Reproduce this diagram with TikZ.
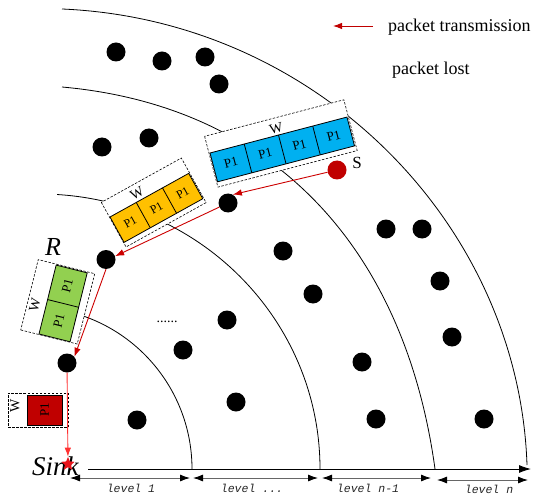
\documentclass[tikz,border=0pt]{standalone}
\usepackage{fontspec}
\setmainfont{Liberation Serif}
\newfontfamily\levelfont{Liberation Mono}
\usetikzlibrary{arrows.meta,shapes.geometric}

\definecolor{cellblue}{HTML}{00B0F0}
\definecolor{cellyellow}{HTML}{FFC000}
\definecolor{cellgreen}{HTML}{92D050}
\definecolor{cellred}{HTML}{C00000}
\definecolor{pktred}{HTML}{CC0000}
\definecolor{lastred}{HTML}{FF3030}
\definecolor{starred}{HTML}{E8141B}

\tikzset{
  dot/.style={circle, fill=black, minimum size=19bp, inner sep=0pt},
  srcdot/.style={dot, fill=cellred},
  cellbox/.style={draw=black, line width=0.8bp},
  celltext/.style={inner sep=0pt, transform shape, font=\fontsize{13bp}{14bp}\selectfont},
  smallcelltext/.style={celltext, font=\fontsize{12bp}{13bp}\selectfont},
  bufframe/.style={draw=black, fill=white, line width=0.6bp, dash pattern=on 2.5bp off 1.5bp},
  wlabel/.style={inner sep=0pt, transform shape, font=\fontsize{14bp}{15bp}\selectfont},
  pkt/.style={draw=pktred, line width=0.9bp, -{Latex[length=9bp,width=6.5bp]}},
  levelarrow/.style={draw=black!60, line width=0.9bp,
    {Latex[length=10bp,width=7bp,color=black]}-{Latex[length=10bp,width=7bp,color=black]}},
  levellabel/.style={font=\levelfont\itshape\fontsize{11.5bp}{12bp}\selectfont, text=black!85, inner sep=0pt},
  ring/.style={draw=black, line width=0.8bp},
  legendtext/.style={anchor=west, inner sep=0pt, font=\fontsize{18bp}{20bp}\selectfont},
}

\begin{document}
\begin{tikzpicture}[x=1bp, y=-1bp]
\useasboundingbox (0,0) rectangle (533,497);

% level boundaries
\draw[ring] (30,469) ++(78:162bp) arc[start angle=78, end angle=0, radius=162bp];
\draw[ring] (40,469) ++(86.5:280bp and 275bp) arc[start angle=86.5, end angle=0, x radius=280bp, y radius=275bp];
\draw[ring] (62,87) .. controls (275,106) and (405,250) .. (435,469);
\draw[ring] (62,9) .. controls (318,20) and (519,225) .. (527,465);

% distance axis
\coordinate (axisL) at (88,469);
\coordinate (axisR) at (531,469);
\draw[line width=0.9bp, -{Latex[length=12bp,width=8bp]}] (axisL) -- (axisR);

% level widths
\coordinate (a1) at (70,478);  \coordinate (b1) at (190,478);
\coordinate (a2) at (193,478); \coordinate (b2) at (318,478);
\coordinate (a3) at (322,478); \coordinate (b3) at (431,478);
\coordinate (a4) at (437,480); \coordinate (b4) at (528,480);
\draw[levelarrow] (a1) -- (b1);
\draw[levelarrow] (a2) -- (b2);
\draw[levelarrow] (a3) -- (b3);
\draw[levelarrow] (a4) -- (b4);
\node[levellabel] (lv1) at (131,488) {level 1};
\node[levellabel] (lv2) at (252,488) {level ...};
\node[levellabel] (lv3) at (368,488) {level n-1};
\node[levellabel] (lv4) at (489,489) {level n};

% buffer at the source
\begin{scope}[shift={(210,153)}, rotate=14.7]
  \draw[bufframe] (-1,-17.5) rectangle (143,35);
  \draw[cellbox, fill=cellblue] (0,0) rectangle (141.6,29.8);
  \draw[cellbox] (35.4,0) -- (35.4,29.8) (70.8,0) -- (70.8,29.8) (106.2,0) -- (106.2,29.8);
  \node[celltext] (bc1) at (17.7,14.9) {P1};
  \node[celltext] (bc2) at (53.1,14.9) {P1};
  \node[celltext] (bc3) at (88.5,14.9) {P1};
  \node[celltext] (bc4) at (123.9,14.9) {P1};
  \node[wlabel] (bw) at (70,-6.5) {W};
\end{scope}

% buffer at the first relay
\begin{scope}[shift={(110,217)}, rotate=29]
  \draw[bufframe] (-0.5,-17) rectangle (91,34);
  \draw[cellbox, fill=cellyellow] (0,0) rectangle (90,29);
  \draw[cellbox] (30,0) -- (30,29) (60,0) -- (60,29);
  \node[smallcelltext] (yc1) at (15,14.5) {P1};
  \node[smallcelltext] (yc2) at (45,14.5) {P1};
  \node[smallcelltext] (yc3) at (75,14.5) {P1};
  \node[wlabel] (yw) at (35,-7.5) {W};
\end{scope}

% buffer at R
\begin{scope}[shift={(39,334)}, rotate=76]
  \draw[bufframe] (-0.5,-18.7) rectangle (72,39.5);
  \draw[cellbox, fill=cellgreen] (0,0) rectangle (71,32);
  \draw[cellbox] (35.5,0) -- (35.5,32);
  \node[celltext] (gc1) at (17.75,16) {P1};
  \node[celltext] (gc2) at (53.25,16) {P1};
  \node[wlabel] (gw) at (27,-11) {W};
\end{scope}

% buffer next to the sink
\begin{scope}[shift={(27,425)}, rotate=90]
  \draw[bufframe] (-2,-19) rectangle (32,41);
  \draw[cellbox, fill=cellred] (0,0) rectangle (30,35);
  \node[celltext] (rc1) at (15,17.5) {P1};
  \node[wlabel] (rw) at (19.5,-12) {W};
\end{scope}

% sensor nodes
\node[dot] (n1) at (116,52) {};
\node[dot] (n2) at (162,61) {};
\node[dot] (n3) at (205,57) {};
\node[dot] (n4) at (219,84) {};
\node[dot] (n5) at (102,147) {};
\node[dot] (n6) at (149,138) {};
\node[dot] (d1) at (228,203) {};
\node[dot] (n7) at (283,251) {};
\node[dot] (n8) at (313,294) {};
\node[dot] (n9) at (227,320) {};
\node[dot] (n10) at (183,350) {};
\node[dot] (n11) at (236,402) {};
\node[dot] (n12) at (137,420) {};
\node[dot] (n13) at (386,229) {};
\node[dot] (n14) at (422,229) {};
\node[dot] (n15) at (440,281) {};
\node[dot] (n16) at (452,337) {};
\node[dot] (n17) at (362,362) {};
\node[dot] (n18) at (376,419) {};
\node[dot] (n19) at (484,419) {};
\node[dot] (R) at (106,259.5) {};
\node[dot] (d2) at (67,363) {};
\node[srcdot] (S) at (337,170) {};

\node[inner sep=0pt, anchor=base, font=\fontsize{14bp}{14bp}\selectfont] (gap) at (167,322) {......};

% sink
\node[inner sep=0pt, anchor=base west, font=\itshape\fontsize{27bp}{28bp}\selectfont] (sinklab) at (32,475) {Sink};
\node[star, star points=5, star point ratio=2.2, fill=starred, minimum size=14bp, inner sep=0pt] (sink) at (68,464) {};

% packet route
\draw[pkt] (S) -- (d1.60);
\draw[pkt] (d1) -- (R.20);
\draw[pkt] (R.south) -- (d2.40);
\draw[pkt, draw=lastred] (d2) -- (sink);

% labels
\node[inner sep=0pt, font=\fontsize{17bp}{18bp}\selectfont] (slab) at (357,163) {S};
\node[inner sep=0pt, font=\itshape\fontsize{26bp}{28bp}\selectfont] (rlab) at (53,247) {R};

% legend
\coordinate (lgA) at (373,26);
\coordinate (lgB) at (333,26);
\draw[pkt, draw=cellred] (lgA) -- (lgB);
\node[legendtext] (lg1) at (388,27) {packet transmission};
\node[legendtext] (lg2) at (392,70) {packet lost};
\end{tikzpicture}
\end{document}
